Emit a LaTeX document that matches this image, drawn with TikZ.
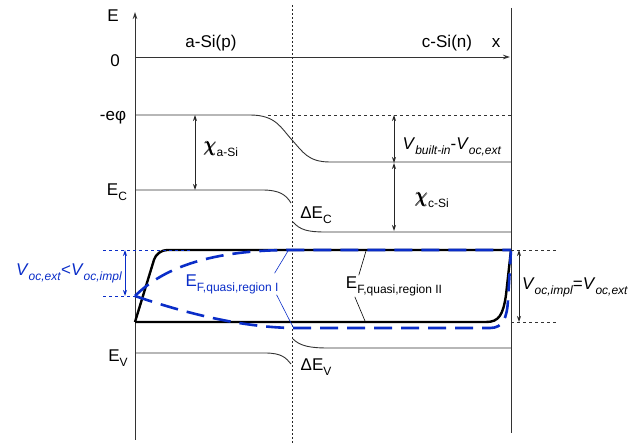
\documentclass[tikz,border=0pt]{standalone}
\usepackage{fontspec}
\setmainfont{Liberation Sans}
\usepackage{amsmath}
\usetikzlibrary{arrows.meta}
\definecolor{qblue}{RGB}{10,45,200}
\newcommand{\lo}[1]{\raisebox{-0.55ex}{\fontsize{12}{13}\selectfont #1}}
\tikzset{
  band/.style={draw=black!80, line width=0.9pt},
  guide/.style={draw=black!80, line width=0.7pt, dash pattern=on 3pt off 3pt},
  ifline/.style={draw=black!85, line width=0.8pt, dash pattern=on 2pt off 2pt},
  qfl/.style={draw=black, line width=2.4pt, line join=round},
  qflb/.style={draw=qblue, line width=2.6pt, dash pattern=on 18pt off 9pt},
  bguide/.style={draw=qblue, line width=0.8pt, dash pattern=on 3pt off 3pt},
  dim/.style={{Stealth[length=6pt,width=4pt]}-{Stealth[length=6pt,width=4pt]},
              line width=0.9pt, black!85},
  bdim/.style={dim, qblue},
  axis/.style={-{Stealth[length=7pt,width=4.5pt]}, line width=0.9pt, black!80},
  lbl/.style={font=\fontsize{17}{20}\selectfont, inner sep=1pt},
  lead/.style={line width=0.6pt},
}

\begin{document}
\begin{tikzpicture}[x=1pt, y=-1pt]
  \useasboundingbox (0,0) rectangle (643,443);
  %% axes and interface
  \coordinate (eBot) at (135,440);
  \coordinate (eTop) at (135,12);
  \coordinate (xL) at (135,57);
  \coordinate (xR) at (510,57);
  \coordinate (wallT) at (511,8);
  \coordinate (wallB) at (511,433);
  \coordinate (ifT) at (292,5);
  \coordinate (ifB) at (292,443);
  \draw[axis] (eBot) -- (eTop);
  \draw[axis] (xL) -- (xR);
  \draw[band] (wallT) -- (wallB);
  \draw[ifline] (ifT) -- (ifB);
  \node[lbl] (eLab)  at (113,16)  {E};
  \node[lbl] (zero)  at (115,61)  {0};
  \node[lbl] (xLab)  at (496,43)  {x};
  \node[lbl] (aSi)   at (211,43)  {a-Si(p)};
  \node[lbl] (cSi)   at (447,43)  {c-Si(n)};
  \node[lbl] (phi)   at (113,118) {-eφ};
  \node[lbl] (ecLab) at (117,192) {E\lo{C}};
  \node[lbl] (evLab) at (118,358) {E\lo{V}};
  %% vacuum level and bands
  \draw[band] (135,115) -- (250,115) .. controls (276,115) and (281,128) .. (292,140)
    .. controls (303,152) and (308,162) .. (330,162) -- (511,162);
  \draw[guide] (268,115) -- (511,115);
  \draw[band] (135,190) -- (262,190) .. controls (280,190) and (286,195) .. (291,203);
  \draw[band] (293,222) .. controls (300,230) and (308,232) .. (325,232) -- (511,232);
  \draw[band] (135,353) -- (265,353) .. controls (282,353) and (286,358) .. (291,364);
  \draw[band] (293,339) .. controls (300,346) and (310,348) .. (328,348) -- (511,348);
  \node[lbl] (dEc) at (316,215) {ΔE\lo{C}};
  \node[lbl] (dEv) at (316,367) {ΔE\lo{V}};
  %% affinities and built-in voltage
  \coordinate (chiAt) at (195,115);
  \coordinate (chiAb) at (195,190);
  \coordinate (vbiT)  at (394,115);
  \coordinate (vbiB)  at (394,163);
  \coordinate (chiCb) at (394,231);
  \draw[dim] (chiAt) -- (chiAb);
  \draw[dim] (vbiT) -- (vbiB);
  \draw[dim] (vbiB) -- (chiCb);
  \node[lbl] (chiA) at (221,149) {{\fontsize{20}{22}\selectfont$\pmb{\chi}$}\lo{a-Si}};
  \node[lbl] (chiC) at (432,200) {{\fontsize{20}{22}\selectfont$\pmb{\chi}$}\lo{c-Si}};
  \node[lbl] (vbi)  at (452,147) {\textit{V}\lo{\textit{built-in}}-\textit{V}\lo{\textit{oc,ext}}};
  %% quasi Fermi levels
  \draw[qfl] (135,322) [rounded corners=10pt] -- (157,250) -- (511,250);
  \draw[qfl] (135,322) -- (486,322) .. controls (499,322) and (503,315) .. (506,295) -- (511,250);
  \draw[qflb] (135,296) .. controls (165,266) and (215,250) .. (292,250) -- (511,250);
  \draw[qflb] (135,296) .. controls (185,313) and (240,327) .. (292,328) -- (490,328)
    .. controls (503,328) and (507,318) .. (508,300) -- (511,250);
  %% open circuit voltages
  \coordinate (bT) at (103,250);
  \coordinate (bB) at (103,296);
  \draw[bguide] (bT) -- (190,250);
  \draw[bguide] (bB) -- (135,296);
  \draw[bdim] (125,250) -- (125,296);
  \node[lbl, text=qblue] (vExt) at (69,273)
    {\textit{V}\lo{\textit{oc,ext}}<\textit{V}\lo{\textit{oc,impl}}};
  \draw[guide] (511,250) -- (557,250);
  \draw[guide] (511,322) -- (557,322);
  \draw[dim] (519,250) -- (519,322);
  \node[lbl] (vImpl) at (575,287)
    {\textit{V}\lo{\textit{oc,impl}}=\textit{V}\lo{\textit{oc,ext}}};
  %% labels of the quasi Fermi levels
  \node[lbl, text=qblue] (efI)  at (232,284) {E\lo{F,quasi,region I}};
  \node[lbl]             (efII) at (394,286) {E\lo{F,quasi,region II}};
  \draw[lead, qblue] ([xshift=-5pt]efI.north east) -- (288,251);
  \draw[lead, qblue] ([xshift=-3pt]efI.south east) -- (293,327);
  \draw[lead] ([xshift=14pt]efII.north west) -- (366,251);
  \draw[lead] ([xshift=10pt]efII.south west) -- (365,321);
\end{tikzpicture}
\end{document}
